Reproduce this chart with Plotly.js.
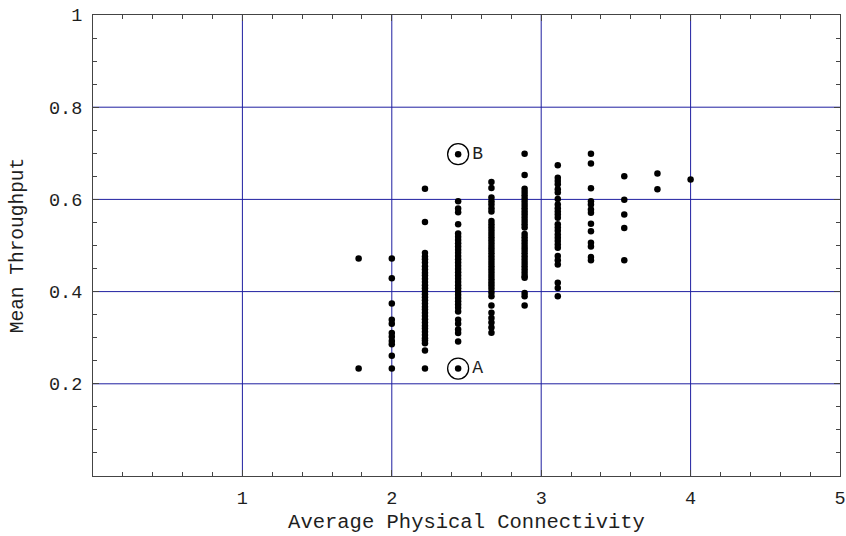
<!DOCTYPE html>
<html>
<head>
<meta charset="utf-8">
<script src="https://cdn.plot.ly/plotly-3.0.1.min.js"></script>
<style>
  html, body { margin: 0; padding: 0; background: #ffffff; }
  #chart { width: 846px; height: 536px; }
</style>
</head>
<body>
<div id="chart"></div>
<script>
// Average physical connectivity levels (one column of runs per level)
const connectivity = [1.778, 2.0, 2.222, 2.444, 2.667, 2.889, 3.111, 3.333, 3.556, 3.778, 4.0];

// Mean throughput measured for each run, grouped by connectivity level
const throughputByLevel = [
  [0.472, 0.233],
  [0.472, 0.429, 0.374, 0.339, 0.330, 0.310, 0.302, 0.293, 0.286, 0.261, 0.233],
  [0.623, 0.551, 0.484, 0.476, 0.470, 0.463, 0.455, 0.448, 0.441, 0.435, 0.428, 0.421,
   0.414, 0.407, 0.401, 0.394, 0.388, 0.381, 0.374, 0.367, 0.361, 0.354, 0.347, 0.340,
   0.333, 0.326, 0.320, 0.313, 0.306, 0.299, 0.294, 0.288, 0.272, 0.233],
  [0.596, 0.580, 0.572, 0.546, 0.526, 0.519, 0.512, 0.505, 0.498, 0.491, 0.484, 0.477,
   0.470, 0.463, 0.456, 0.449, 0.442, 0.435, 0.428, 0.421, 0.414, 0.407, 0.400, 0.393,
   0.386, 0.379, 0.372, 0.365, 0.357, 0.339, 0.330, 0.318, 0.310, 0.292],
  [0.638, 0.625, 0.604, 0.596, 0.589, 0.581, 0.574, 0.553, 0.546, 0.539, 0.532, 0.525,
   0.518, 0.511, 0.504, 0.497, 0.490, 0.483, 0.476, 0.469, 0.462, 0.455, 0.448, 0.441,
   0.434, 0.427, 0.420, 0.413, 0.406, 0.398, 0.390, 0.370, 0.354, 0.343, 0.333, 0.322, 0.311],
  [0.699, 0.653, 0.623, 0.616, 0.609, 0.602, 0.595, 0.588, 0.581, 0.574, 0.567, 0.560,
   0.553, 0.546, 0.539, 0.525, 0.518, 0.511, 0.504, 0.497, 0.490, 0.483, 0.476, 0.469,
   0.462, 0.455, 0.448, 0.441, 0.434, 0.430, 0.397, 0.390, 0.370],
  [0.674, 0.647, 0.640, 0.633, 0.622, 0.615, 0.601, 0.589, 0.581, 0.574, 0.567, 0.560,
   0.546, 0.539, 0.532, 0.524, 0.517, 0.510, 0.502, 0.495, 0.477, 0.468, 0.459, 0.419,
   0.408, 0.390],
  [0.699, 0.678, 0.624, 0.596, 0.589, 0.578, 0.571, 0.547, 0.531, 0.506, 0.498, 0.475, 0.468],
  [0.650, 0.599, 0.567, 0.538, 0.468],
  [0.656, 0.622],
  [0.643]
];

// Two highlighted runs
const markedLabels = ['A', 'B'];
const markedX = [2.444, 2.444];
const markedY = [0.233, 0.698];

// Axis ticks
const xTicks = [1, 2, 3, 4, 5];
const yTicks = [0.2, 0.4, 0.6, 0.8, 1];
const yTickText = ['0.2', '0.4', '0.6', '0.8', '1'];

// Flatten the grouped runs into point lists
const xs = [], ys = [];
connectivity.forEach((c, i) => {
  throughputByLevel[i].forEach(v => { xs.push(c); ys.push(v); });
});

const mono = '"Liberation Mono", "DejaVu Sans Mono", monospace';
const gridColor = '#1f1fa0';
const textColor = '#1e1e1e';

// Blue grid lines at the major ticks, drawn beneath the data
const gridShapes = [];
xTicks.slice(0, -1).forEach(v => gridShapes.push({
  type: 'line', layer: 'below', xref: 'x', yref: 'paper', x0: v, x1: v, y0: 0, y1: 1,
  line: { color: gridColor, width: 1 }
}));
yTicks.slice(0, -1).forEach(v => gridShapes.push({
  type: 'line', layer: 'below', xref: 'paper', yref: 'y', x0: 0, x1: 1, y0: v, y1: v,
  line: { color: gridColor, width: 1 }
}));

const traces = [
  {
    type: 'scatter', mode: 'markers',
    x: xs, y: ys,
    marker: { color: '#000000', size: 6.5, line: { width: 0 } },
    showlegend: false
  },
  {
    type: 'scatter', mode: 'markers',
    x: markedX, y: markedY,
    marker: { color: '#000000', size: 6.5, line: { width: 0 } },
    showlegend: false
  },
  {
    type: 'scatter', mode: 'markers+text',
    x: markedX, y: markedY,
    text: markedLabels,
    textposition: 'middle right',
    textfont: { family: mono, size: 18, color: textColor },
    marker: { symbol: 'circle-open', color: '#000000', size: 21, line: { width: 1.3, color: '#000000' } },
    showlegend: false
  }
];

const layout = {
  width: 846, height: 536,
  margin: { l: 93, r: 6, t: 15, b: 60 },
  paper_bgcolor: '#ffffff', plot_bgcolor: '#ffffff',
  font: { family: mono, size: 19, color: textColor },
  shapes: gridShapes,
  xaxis: {
    range: [0, 5], tickvals: xTicks, ticktext: xTicks.map(String),
    showgrid: false,
    zeroline: false, showline: true, linecolor: '#444444', linewidth: 1, mirror: 'ticks',
    ticks: 'inside', ticklen: 6, tickcolor: '#444444',
    minor: { dtick: 0.2, ticks: 'inside', ticklen: 4, tickcolor: '#444444', showgrid: false },
    tickfont: { family: mono, size: 18.5, color: textColor },
    ticklabelstandoff: 5,
    automargin: false,
    title: { text: 'Average Physical Connectivity', font: { family: mono, size: 20.5, color: textColor }, standoff: 4 }
  },
  yaxis: {
    range: [0, 1], tickvals: yTicks, ticktext: yTickText,
    showgrid: false,
    zeroline: false, showline: true, linecolor: '#444444', linewidth: 1, mirror: 'ticks',
    ticks: 'inside', ticklen: 6, tickcolor: '#444444',
    minor: { dtick: 0.05, ticks: 'inside', ticklen: 4, tickcolor: '#444444', showgrid: false },
    tickfont: { family: mono, size: 18.5, color: textColor },
    ticklabelstandoff: 6,
    automargin: false,
    title: { text: 'Mean Throughput', font: { family: mono, size: 19.5, color: textColor }, standoff: 20 }
  }
};

Plotly.newPlot('chart', traces, layout, { displayModeBar: false, staticPlot: true });
</script>
</body>
</html>
